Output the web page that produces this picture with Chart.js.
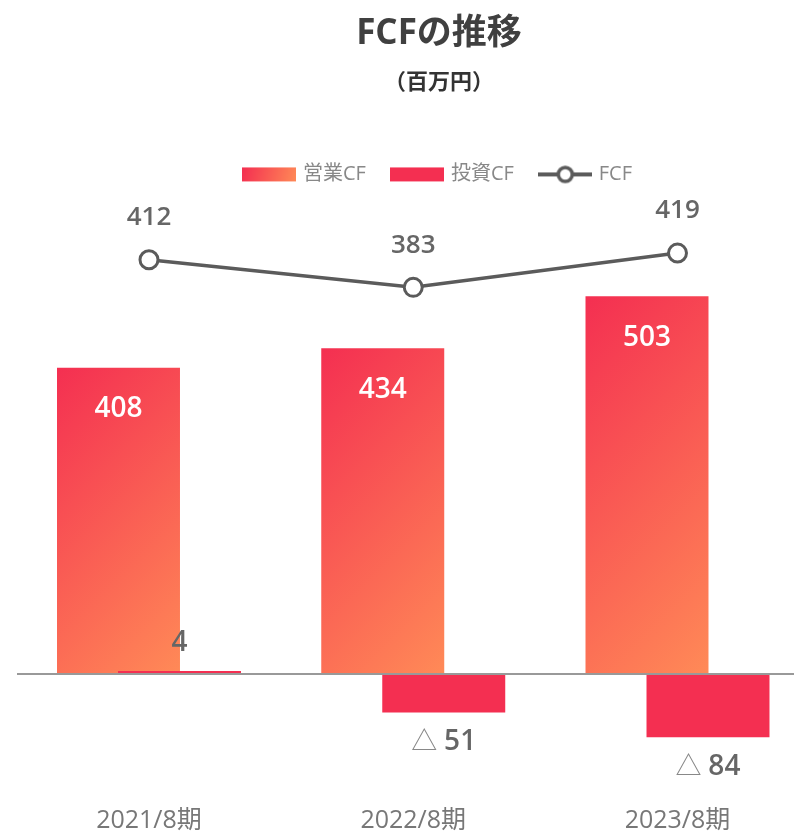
<!DOCTYPE html>
<html lang="ja">
<head>
<meta charset="utf-8">
<title>FCFの推移</title>
<script src="https://cdn.jsdelivr.net/npm/chart.js@4.4.1/dist/chart.umd.min.js"></script>
<style>
  html, body { margin: 0; padding: 0; background: #fff; overflow: hidden; }
  #wrap { width: 861px; height: 836px; }
</style>
</head>
<body>
<div id="wrap"><canvas id="myChart"></canvas></div>
<script>
// data
var periods = ['2021/8期', '2022/8期', '2023/8期'];
var operatingCF = [408, 434, 503];
var investingCF = [4, -51, -84];
var freeCF = [412, 383, 419];

var RED = '#f42f51';
var ORANGE = '#ff8a57';
var LINE = '#5b5b5b';
var FONT = "'Open Sans', 'Noto Sans CJK JP', sans-serif";
var CAT_PCT = 0.4617;
var BAR_PCT = 2.016;

Chart.defaults.font.family = FONT;

// one gradient per bar, top-left red to bottom-right orange
function opGradient(c) {
  var chart = c.chart;
  var xs = chart.scales.x, ys = chart.scales.y;
  if (!chart.chartArea || !xs || !ys || c.type !== 'data') return RED;
  var step = xs.getPixelForValue(1) - xs.getPixelForValue(0);
  var chunk = step * CAT_PCT / 2;
  var w = chunk * BAR_PCT;
  var left = xs.getPixelForValue(c.dataIndex) - chunk / 2 - w / 2;
  var top = ys.getPixelForValue(c.parsed.y);
  var h = ys.getPixelForValue(0) - top;
  var d = (w + h) / 2;
  var g = chart.ctx.createLinearGradient(left, top, left + d, top + d);
  g.addColorStop(0, RED);
  g.addColorStop(1, ORANGE);
  return g;
}

function swatch(kind) {
  var c = document.createElement('canvas');
  c.width = 54; c.height = 20;
  var g = c.getContext('2d');
  if (kind === 'line') {
    g.strokeStyle = LINE;
    g.lineWidth = 4;
    g.beginPath(); g.moveTo(0, 10); g.lineTo(54, 10); g.stroke();
    g.beginPath(); g.arc(27, 10, 7, 0, Math.PI * 2);
    g.fillStyle = '#fff'; g.fill();
    g.lineWidth = 3.5; g.stroke();
  } else {
    var fill = RED;
    if (kind === 'grad') {
      fill = g.createLinearGradient(0, 3, 54, 17);
      fill.addColorStop(0, RED);
      fill.addColorStop(1, ORANGE);
    }
    g.fillStyle = fill;
    g.fillRect(0, 3, 54, 14);
  }
  return c;
}

// investing bars sit on top of operating bars
var drawOrder = {
  id: 'drawOrder',
  beforeDatasetDraw: function(chart, args) {
    if (args.index === 1) return false;
  },
  afterDatasetDraw: function(chart, args) {
    if (args.index === 0) chart.getDatasetMeta(1).controller.draw();
  }
};

var valueLabels = {
  id: 'valueLabels',
  afterDatasetsDraw: function(chart) {
    var ctx = chart.ctx;
    ctx.save();
    ctx.textAlign = 'center';
    ctx.textBaseline = 'middle';

    ctx.font = '600 28px ' + FONT;
    ctx.fillStyle = '#fff';
    chart.getDatasetMeta(0).data.forEach(function(el, i) {
      ctx.fillText(operatingCF[i], el.x, el.y + 41.5);
    });

    chart.getDatasetMeta(1).data.forEach(function(el, i) {
      var v = investingCF[i];
      if (v >= 0) {
        ctx.font = '600 28px ' + FONT;
        ctx.fillStyle = '#666';
        ctx.textAlign = 'center';
        ctx.fillText(v, el.x, el.y - 28);
      } else {
        var tri = '△ ', num = String(Math.abs(v));
        ctx.font = '400 26px ' + FONT;
        var w1 = ctx.measureText(tri).width;
        ctx.font = '600 28px ' + FONT;
        var w2 = ctx.measureText(num).width;
        var x0 = el.x - (w1 + w2) / 2;
        ctx.textAlign = 'left';
        ctx.font = '400 26px ' + FONT;
        ctx.fillStyle = '#888';
        ctx.fillText(tri, x0, el.y + 30);
        ctx.font = '600 28px ' + FONT;
        ctx.fillStyle = '#666';
        ctx.fillText(num, x0 + w1, el.y + 30);
        ctx.textAlign = 'center';
      }
    });

    ctx.font = '600 26px ' + FONT;
    ctx.fillStyle = '#666';
    chart.getDatasetMeta(2).data.forEach(function(el, i) {
      ctx.fillText(freeCF[i], el.x, el.y - 42);
    });
    ctx.restore();
  }
};

var ctx = document.getElementById('myChart').getContext('2d');
var chart = new Chart(ctx, {
  type: 'bar',
  data: {
    datasets: [{
      label: '営業CF',
      data: operatingCF.map(function(v, i) { return {x: i, y: v}; }),
      backgroundColor: opGradient,
      yAxisID: 'y'
    }, {
      label: '投資CF',
      data: investingCF.map(function(v, i) { return {x: i, y: v}; }),
      backgroundColor: RED,
      yAxisID: 'y'
    }, {
      type: 'line',
      label: 'FCF',
      data: freeCF.map(function(v, i) { return {x: i, y: v}; }),
      borderColor: LINE,
      borderWidth: 3.5,
      pointRadius: 9,
      pointBorderWidth: 3,
      pointBackgroundColor: '#fff',
      pointBorderColor: LINE,
      yAxisID: 'y2'
    }]
  },
  options: {
    responsive: true,
    maintainAspectRatio: false,
    animation: false,
    categoryPercentage: CAT_PCT,
    barPercentage: BAR_PCT,
    layout: { padding: { left: 17 } },
    plugins: {
      title: {
        display: true,
        text: 'FCFの推移',
        color: '#404040',
        font: { size: 35, weight: 'bold' },
        padding: { top: 13, bottom: 4 }
      },
      subtitle: {
        display: true,
        text: '（百万円）',
        color: '#333',
        font: { family: "'Noto Sans CJK JP', sans-serif", size: 22, weight: 'bold' },
        padding: { top: 8, bottom: 43 }
      },
      legend: {
        labels: {
          usePointStyle: true,
          pointStyleWidth: 47,
          boxHeight: 14,
          padding: 28,
          color: '#888',
          font: { size: 20 },
          generateLabels: function(ch) {
            var kinds = ['grad', 'solid', 'line'];
            return ch.data.datasets.map(function(ds, i) {
              return {
                text: ds.label,
                pointStyle: swatch(kinds[i]),
                fillStyle: RED,
                strokeStyle: LINE,
                lineWidth: 0,
                fontColor: '#888',
                hidden: false,
                datasetIndex: i
              };
            });
          }
        }
      },
      tooltip: { enabled: false }
    },
    scales: {
      x: {
        type: 'linear',
        offset: false,
        min: -0.4995,
        max: 2.649,
        grid: { display: false, drawTicks: false },
        border: { display: false },
        afterBuildTicks: function(scale) {
          scale.ticks = periods.map(function(p, i) { return {value: i}; });
        },
        ticks: {
          padding: 0,
          color: '#777',
          font: { size: 25 },
          callback: function(v) { return periods[v]; }
        }
      },
      y: {
        min: -175.6,
        max: 638.7,
        border: { display: false },
        grid: {
          drawTicks: false,
          lineWidth: 2,
          color: function(c) { return c.tick && c.tick.value === 0 ? '#999' : 'rgba(0,0,0,0)'; }
        },
        ticks: { display: false, stepSize: 100 }
      },
      y2: {
        display: false,
        min: -161.6,
        max: 480.6
      }
    }
  },
  plugins: [drawOrder, valueLabels]
});
</script>
</body>
</html>
